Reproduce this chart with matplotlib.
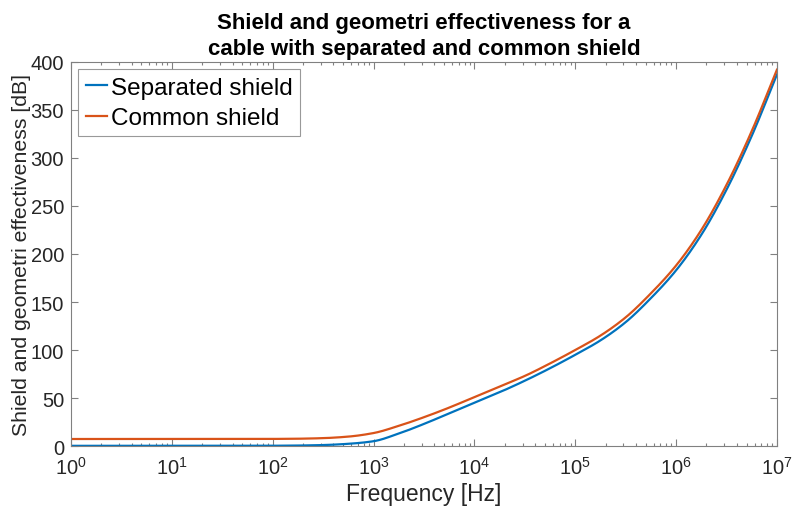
import numpy as np
import matplotlib
matplotlib.use("Agg")
import matplotlib.pyplot as plt
from matplotlib.ticker import LogLocator, NullFormatter

# Shield + geometry effectiveness sampled along log10(frequency)
log_freq = [0, 1, 2, 2.25, 2.5, 2.75, 3, 3.25, 3.5, 3.75, 4, 4.25, 4.5,
            4.75, 5, 5.25, 5.5, 5.75, 6, 6.25, 6.5, 6.75, 7]
separated_db = [0.2, 0.2, 0.3, 0.5, 1.0, 2.3, 5.0, 13, 23, 34, 45, 56, 68,
                81, 95, 110, 129, 154, 183, 220, 267, 323, 387]
common_db = [7.3, 7.3, 7.4, 7.6, 8.2, 9.8, 13.5, 21, 30, 40, 51, 62, 73,
             86, 100, 115, 134, 159, 188, 225, 272, 328, 392]
series_names = ["Separated shield", "Common shield"]
series_colors = ["#0072BD", "#D95319"]


def pchip(x, y, xn):
    """Monotone piecewise-cubic (Fritsch-Carlson) interpolation."""
    x = np.asarray(x, float)
    y = np.asarray(y, float)
    h = np.diff(x)
    d = np.diff(y) / h
    m = np.zeros_like(y)
    for i in range(1, len(y) - 1):
        if d[i - 1] * d[i] > 0:
            w1 = 2 * h[i] + h[i - 1]
            w2 = h[i] + 2 * h[i - 1]
            m[i] = (w1 + w2) / (w1 / d[i - 1] + w2 / d[i])
    m[0] = d[0]
    m[-1] = d[-1]
    idx = np.clip(np.searchsorted(x, xn) - 1, 0, len(h) - 1)
    t = (xn - x[idx]) / h[idx]
    h00 = 2 * t**3 - 3 * t**2 + 1
    h10 = t**3 - 2 * t**2 + t
    h01 = -2 * t**3 + 3 * t**2
    h11 = t**3 - t**2
    return (h00 * y[idx] + h10 * h[idx] * m[idx]
            + h01 * y[idx + 1] + h11 * h[idx] * m[idx + 1])


plt.rcParams["font.family"] = ["Liberation Sans", "DejaVu Sans"]
plt.rcParams["mathtext.fontset"] = "custom"
plt.rcParams["mathtext.rm"] = "Liberation Sans"
plt.rcParams["mathtext.it"] = "Liberation Sans"

fig = plt.figure(figsize=(7.92, 5.10), dpi=100)
ax = fig.add_axes([0.0896, 0.1235, 0.8914, 0.753])

fine = np.linspace(0, 7, 800)
freq = 10 ** fine
for vals, name, col in zip([separated_db, common_db], series_names, series_colors):
    ax.plot(freq, pchip(log_freq, vals, fine), color=col, lw=1.6, label=name)

ax.set_xscale("log")
ax.set_xlim(1, 1e7)
ax.set_ylim(0, 400)
ax.set_yticks(range(0, 401, 50))
ax.xaxis.set_major_locator(LogLocator(base=10, numticks=10))
ax.xaxis.set_minor_locator(LogLocator(base=10, subs=np.arange(2, 10), numticks=10))
ax.xaxis.set_minor_formatter(NullFormatter())

edge = "#808080"
for s in ax.spines.values():
    s.set_color(edge)
    s.set_linewidth(0.8)
ax.tick_params(which="both", direction="in", top=True, right=True,
               colors=edge, labelcolor="#262626", labelsize=14.5, width=0.8)
ax.tick_params(which="major", length=5)
ax.tick_params(which="minor", length=2.5)
ax.tick_params(axis="x", pad=7)
ax.tick_params(axis="y", pad=5)

ax.set_xlabel("Frequency [Hz]", fontsize=16.5, color="#262626", labelpad=3)
ax.set_ylabel("Shield and geometri effectiveness [dB]", fontsize=15.3,
              color="#262626", labelpad=0)
ax.set_title("Shield and geometri effectiveness for a\ncable with separated and common shield",
             fontsize=16, fontweight="bold", color="black", pad=6, linespacing=1.3)

leg = ax.legend(loc="upper left", fontsize=17.5, frameon=True, fancybox=False,
                edgecolor=edge, handlelength=0.9, handletextpad=0.15,
                borderpad=0.3, labelspacing=0.35, borderaxespad=0.3)
leg.get_frame().set_linewidth(0.8)

fig.savefig("out.png", dpi=100)
